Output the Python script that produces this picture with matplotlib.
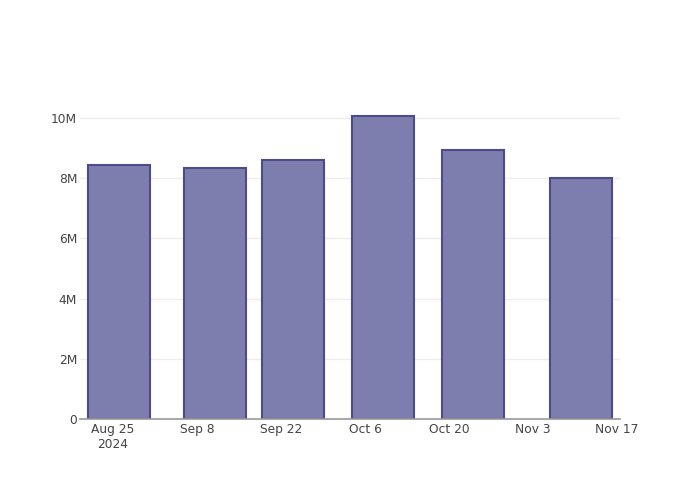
import numpy as np
import matplotlib.pyplot as plt
import matplotlib.dates as mdates
from matplotlib.ticker import FuncFormatter
from datetime import datetime, timedelta

# bar dates and values
dates = ["2024-08-26", "2024-09-11", "2024-09-24", "2024-10-09", "2024-10-24", "2024-11-11"]
values = [8.44e6, 8.34e6, 8.60e6, 10.07e6, 8.94e6, 8.01e6]
tick_dates = ["2024-08-25", "2024-09-08", "2024-09-22", "2024-10-06", "2024-10-20", "2024-11-03", "2024-11-17"]
tick_labels = ["Aug 25\n2024", "Sep 8", "Sep 22", "Oct 6", "Oct 20", "Nov 3", "Nov 17"]

x = [datetime.strptime(d, "%Y-%m-%d") for d in dates]
xt = [datetime.strptime(d, "%Y-%m-%d") for d in tick_dates]

fig = plt.figure(figsize=(7, 5), dpi=100)
ax = fig.add_axes([80/700, 1-419/500, 540/700, 319/500])

ax.bar(x, values, width=10.4, color='#7e7eae', edgecolor='#4c4c8c', linewidth=1.5, zorder=3)

ax.set_xlim(datetime(2024, 8, 19, 12), datetime(2024, 11, 17, 12))
ax.set_ylim(0, 10.6e6)

ax.set_xticks(xt)
ax.set_xticklabels(tick_labels)
ax.set_yticks([0, 2e6, 4e6, 6e6, 8e6, 10e6])
ax.yaxis.set_major_formatter(FuncFormatter(lambda v, p: "0" if v == 0 else "%dM" % (v/1e6)))

ax.grid(axis='y', color='#eeeeee', linewidth=1, zorder=0)
ax.tick_params(axis='both', length=0, labelsize=8.8, colors='#444444')
ax.tick_params(axis='x', pad=3)
ax.tick_params(axis='y', pad=2)
for s in ['top', 'left', 'right']:
    ax.spines[s].set_visible(False)
ax.spines['bottom'].set_color('#999999')
ax.spines['bottom'].set_linewidth(1.2)
ax.spines['bottom'].set_zorder(4)

fig.savefig("out.png", dpi=100)
